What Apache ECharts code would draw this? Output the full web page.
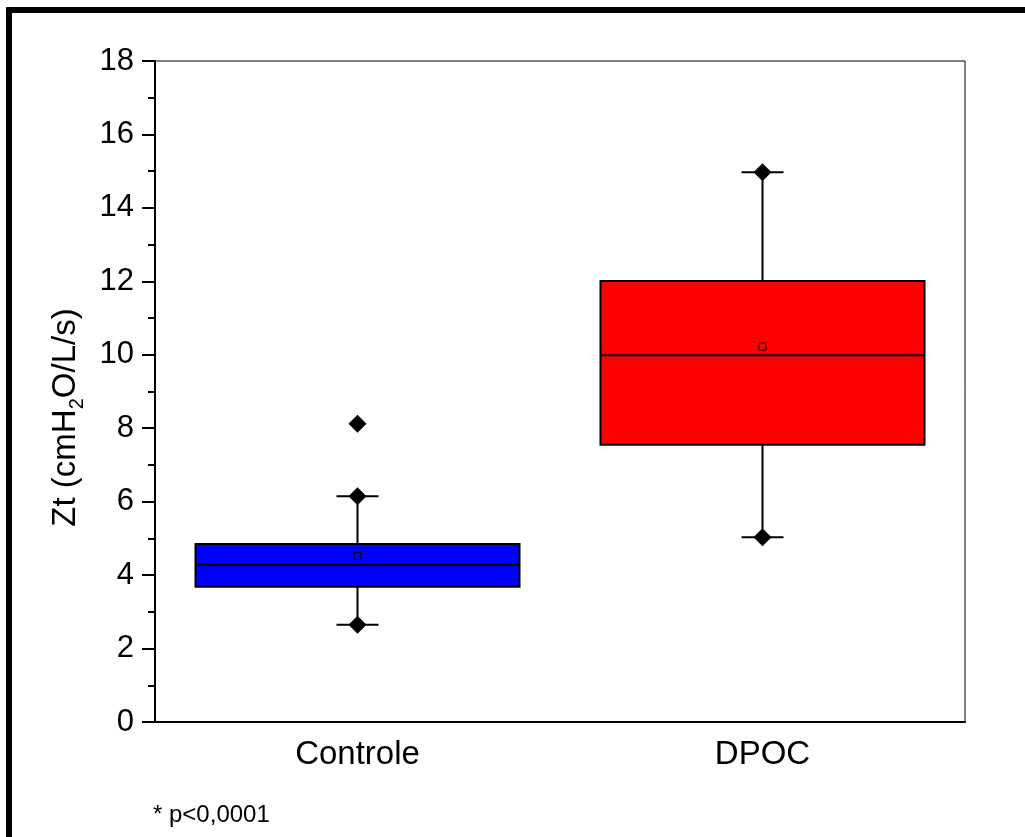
<!DOCTYPE html>
<html>
<head>
<meta charset="utf-8">
<script src="https://cdn.jsdelivr.net/npm/echarts@6/dist/echarts.min.js"></script>
<style>
html, body { margin: 0; padding: 0; background: #fff; }
#main { width: 1025px; height: 837px; }
</style>
</head>
<body>
<div id="main"></div>
<script>
// box statistics
var categories = ['Controle', 'DPOC'];
var q1 = [3.68, 7.55];
var median = [4.28, 9.99];
var q3 = [4.85, 12.01];
var whiskLow = [2.65, 5.03];
var whiskHigh = [6.15, 14.97];
var means = [4.52, 10.22];
var outliers = [[0, 8.12]];

var boxColors = ['#0000ff', '#ff0000'];
var font = 'Liberation Sans, Arial, sans-serif';

var boxData = [];
var endPoints = [];
var meanPoints = [];
for (var i = 0; i < categories.length; i++) {
    boxData.push([i, q1[i], median[i], q3[i], whiskLow[i], whiskHigh[i]]);
    endPoints.push([i, whiskLow[i]]);
    endPoints.push([i, whiskHigh[i]]);
    meanPoints.push([i, means[i]]);
}
for (var k = 0; k < outliers.length; k++) {
    endPoints.push(outliers[k]);
}

function renderBox(params, api) {
    var x = api.value(0);
    var pQ1 = api.coord([x, api.value(1)]);
    var pMed = api.coord([x, api.value(2)]);
    var pQ3 = api.coord([x, api.value(3)]);
    var pLow = api.coord([x, api.value(4)]);
    var pHigh = api.coord([x, api.value(5)]);
    var band = api.size([1, 0])[0];
    var half = band * 0.4;
    var cap = 21;
    var line = { stroke: '#000', lineWidth: 2 };
    var cx = pMed[0];
    return {
        type: 'group',
        children: [
            { type: 'line', shape: { x1: cx, y1: pQ3[1], x2: cx, y2: pHigh[1] }, style: line },
            { type: 'line', shape: { x1: cx, y1: pQ1[1], x2: cx, y2: pLow[1] }, style: line },
            { type: 'line', shape: { x1: cx - cap, y1: pHigh[1], x2: cx + cap, y2: pHigh[1] }, style: line },
            { type: 'line', shape: { x1: cx - cap, y1: pLow[1], x2: cx + cap, y2: pLow[1] }, style: line },
            {
                type: 'rect',
                shape: { x: cx - half, y: pQ3[1], width: half * 2, height: pQ1[1] - pQ3[1] },
                style: { fill: boxColors[params.dataIndex], stroke: '#000', lineWidth: 2 }
            },
            { type: 'line', shape: { x1: cx - half, y1: pMed[1], x2: cx + half, y2: pMed[1] }, style: line }
        ]
    };
}

var chart = echarts.init(document.getElementById('main'));
var option = {
    backgroundColor: '#fff',
    animation: false,
    textStyle: { fontFamily: font },
    grid: {
        left: 155, top: 61, width: 810, height: 661,
        show: true, borderColor: '#000', borderWidth: 1
    },
    xAxis: {
        type: 'category',
        data: categories,
        axisLine: { lineStyle: { color: '#000', width: 2 } },
        axisTick: { alignWithLabel: true, length: 11, lineStyle: { color: '#000', width: 2 } },
        axisLabel: { fontSize: 33, color: '#000', margin: 16, fontFamily: font },
        splitLine: { show: false }
    },
    yAxis: {
        type: 'value',
        min: 0,
        max: 18,
        interval: 2,
        name: '{a|Zt (cmH}{s|2}{a|O/L/s)}',
        nameLocation: 'middle',
        nameGap: 68,
        nameTextStyle: {
            fontFamily: font,
            padding: [0, 52, 0, 0],
            rich: {
                a: { fontSize: 33, color: '#000', fontFamily: font, lineHeight: 42 },
                s: { fontSize: 20, color: '#000', fontFamily: font, verticalAlign: 'bottom', lineHeight: 42 }
            }
        },
        axisLine: { show: true, lineStyle: { color: '#000', width: 2 } },
        axisTick: { show: true, length: 13, lineStyle: { color: '#000', width: 2 } },
        minorTick: { show: true, splitNumber: 2, length: 7, lineStyle: { color: '#000', width: 2 } },
        axisLabel: { fontSize: 31, color: '#000', margin: 21, fontFamily: font },
        splitLine: { show: false }
    },
    series: [
        {
            type: 'custom',
            renderItem: renderBox,
            encode: { x: 0, y: [1, 2, 3, 4, 5] },
            data: boxData,
            z: 2
        },
        {
            type: 'scatter',
            symbol: 'diamond',
            symbolSize: 18,
            itemStyle: { color: '#000', opacity: 1 },
            data: endPoints,
            z: 3
        },
        {
            type: 'scatter',
            symbol: 'rect',
            symbolSize: 7,
            itemStyle: { color: 'rgba(0,0,0,0)', borderColor: '#000', borderWidth: 1, opacity: 1 },
            data: meanPoints,
            z: 4
        }
    ],
    graphic: [
        { type: 'rect', shape: { x: 6, y: 7, width: 1019, height: 6 }, style: { fill: '#000' } },
        { type: 'rect', shape: { x: 6, y: 7, width: 6, height: 830 }, style: { fill: '#000' } },
        {
            type: 'text', left: 153, top: 803,
            style: { text: '* p<0,0001', fontSize: 24, fill: '#000', fontFamily: font }
        }
    ]
};
chart.setOption(option);
</script>
</body>
</html>
